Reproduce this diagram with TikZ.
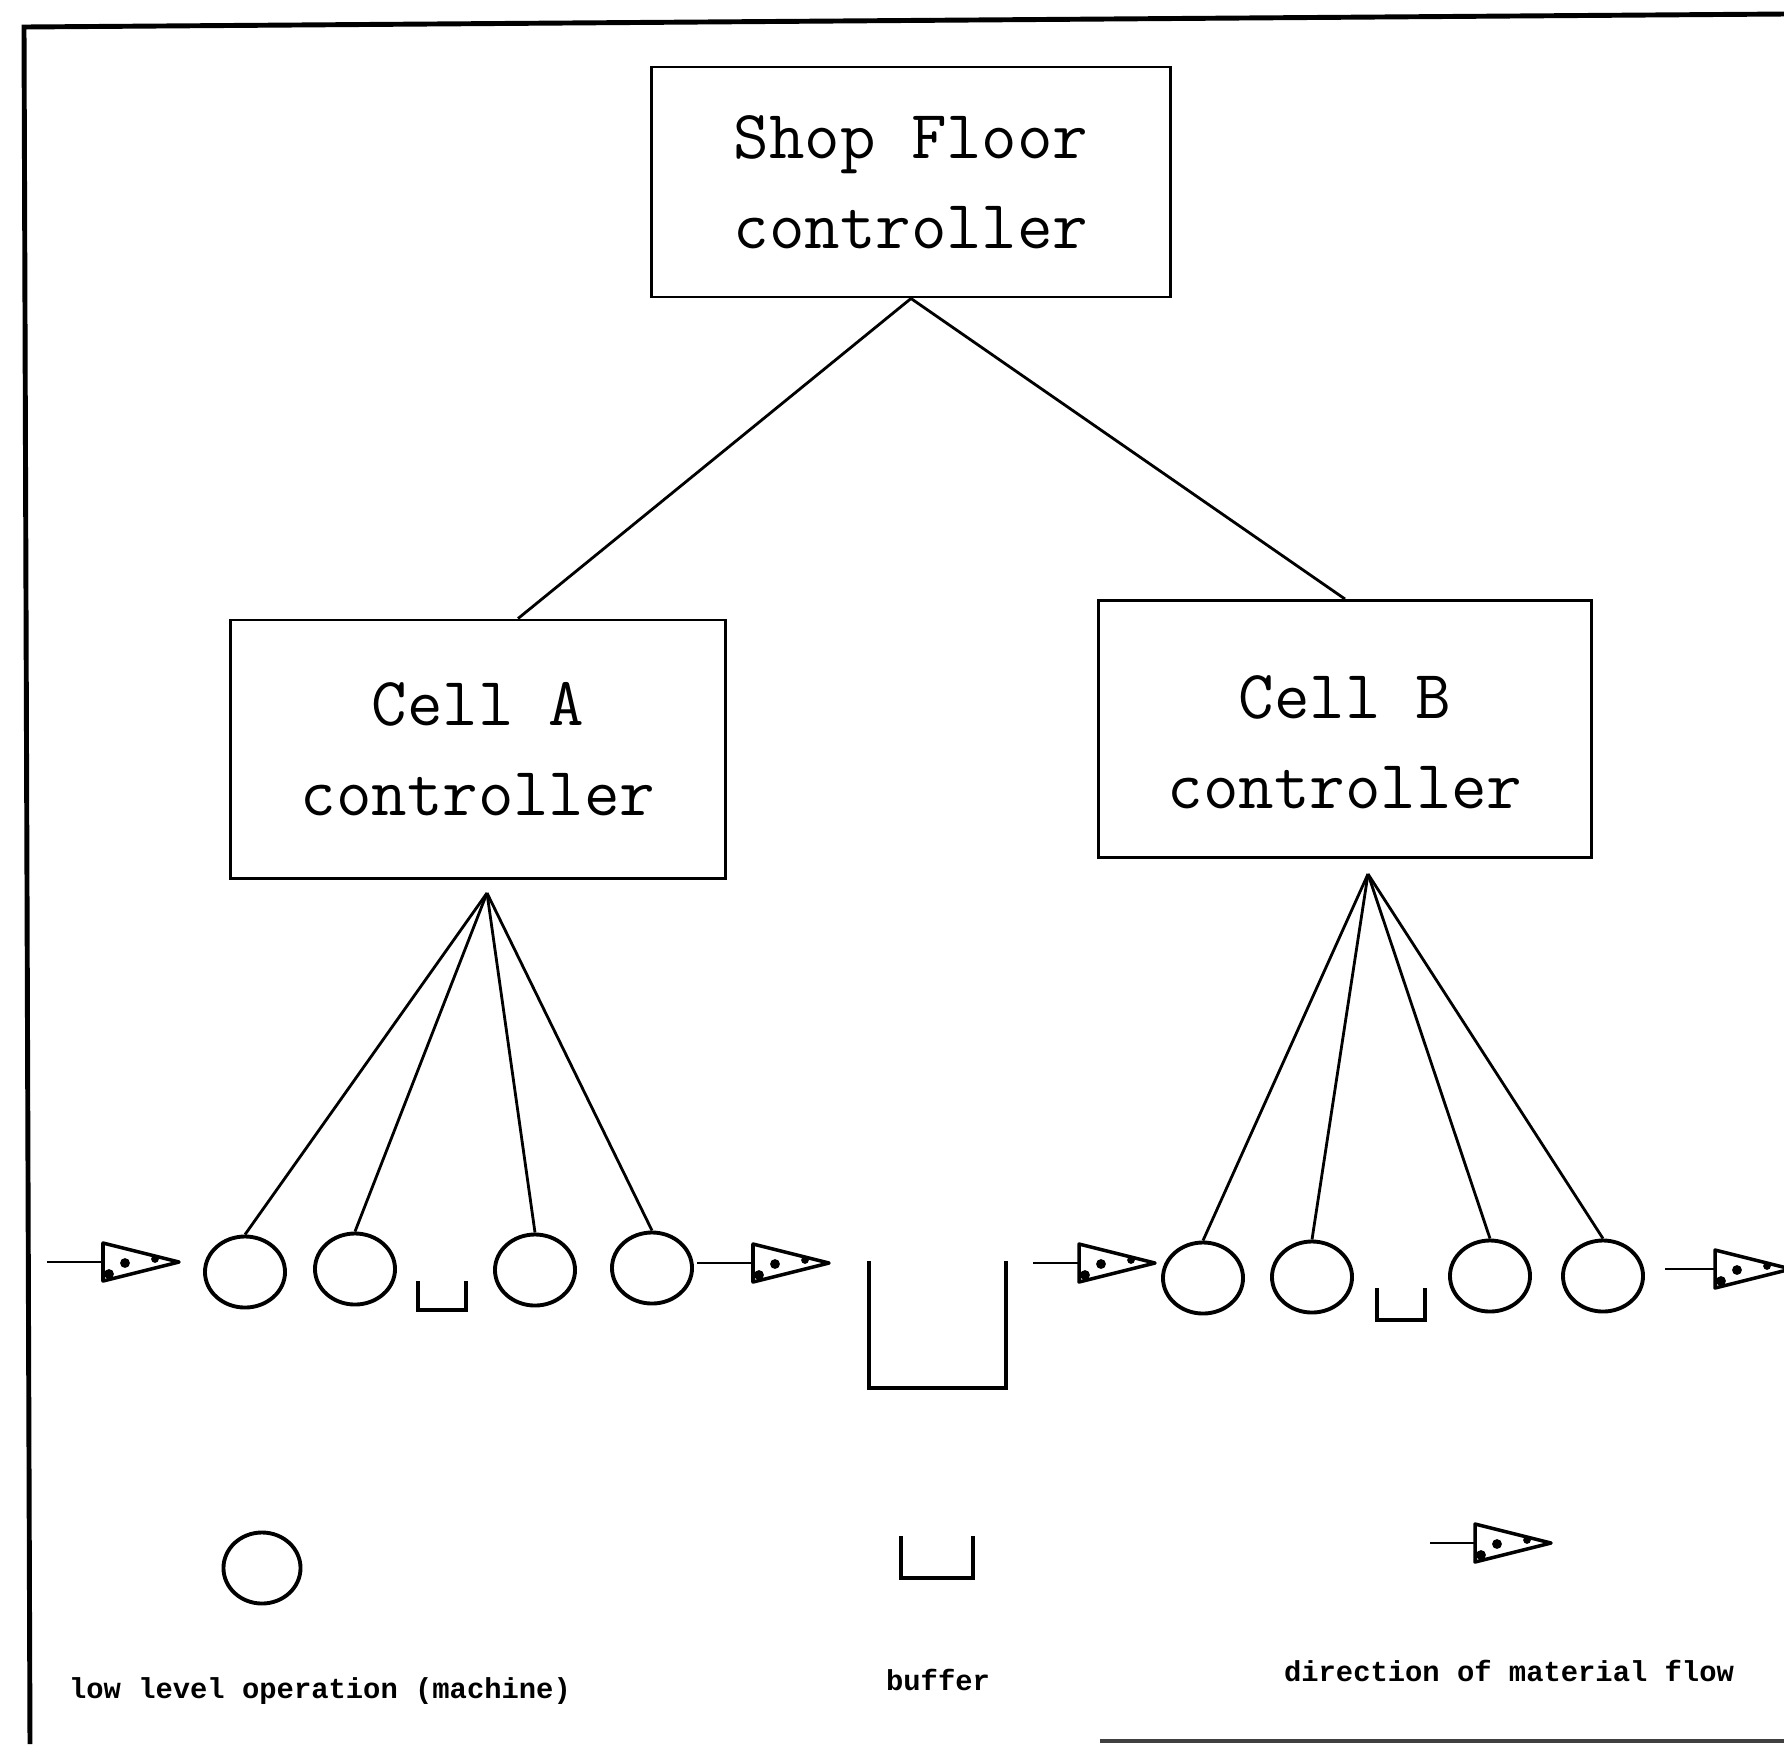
\documentclass[tikz,border=0pt]{standalone}
\usepackage{fontspec}
\newfontfamily\legendfont{Liberation Mono}
\usetikzlibrary{shapes.geometric}

\tikzset{
  % flow symbol: short line and a dotted triangle head
  flow/.pic={
    \draw[line width=0.7pt] (0,0) -- (#1,0);
    \begin{scope}[shift={(#1,0)}]
      \draw[line width=1pt, line join=round] (0,-19) -- (76,0) -- (0,19) -- cycle;
      \fill (22,1) circle (1.4pt);
      \fill (6,12) circle (1.4pt);
      \fill (52,-3) circle (1.1pt);
    \end{scope}
  }
}

\begin{document}
\begin{tikzpicture}[x=0.01cm, y=-0.01cm,
  box/.style={draw, line width=0.8pt, align=center, inner sep=0pt,
    font=\ttfamily\fontsize{19.6}{25.6}\selectfont},
  machine/.style={draw, ellipse, line width=1.1pt, inner sep=0pt,
    minimum width=0.8cm, minimum height=0.71cm},
  fan/.style={line width=0.8pt},
  legend/.style={font=\legendfont\bfseries\fontsize{8.2}{10}\selectfont, inner sep=0pt}]
  \useasboundingbox (0,0) rectangle (1784,1744);

  % Frame
  \draw[line width=1.4pt] (30,1744) -- (24,27) -- (1784,14);
  \draw[line width=0.9pt, black!75] (1100,1741) -- (1784,1741);

  % Controllers
  \node[box, minimum width=5.18cm, minimum height=2.30cm] (shop) at (911,182) {Shop Floor\\controller};
  \node[box, minimum width=4.95cm, minimum height=2.58cm] (cellA) at (478,749) {Cell A\\controller};
  \node[box, minimum width=4.92cm, minimum height=2.57cm] (cellB) at (1345,729) {\\[-0.2cm]Cell B\\controller};

  \draw[fan] (shop.south) -- ([xshift=0.4cm]cellA.north);
  \draw[fan] (shop.south) -- (cellB.north);

  % Cell A machines
  \node[machine] (mA1) at (245,1272) {};
  \node[machine] (mA2) at (355,1269) {};
  \node[machine] (mA3) at (535,1270) {};
  \node[machine] (mA4) at (652,1268) {};
  \coordinate (apexA) at (487,893);
  \foreach \m in {mA1,mA2,mA3,mA4}
    \draw[fan] (apexA) -- (\m.north);

  % Cell B machines
  \node[machine] (mB1) at (1203,1278) {};
  \node[machine] (mB2) at (1312,1277) {};
  \node[machine] (mB3) at (1490,1276) {};
  \node[machine] (mB4) at (1603,1276) {};
  \coordinate (apexB) at (1368,874);
  \foreach \m in {mB1,mB2,mB3,mB4}
    \draw[fan] (apexB) -- (\m.north);

  % Buffers
  \draw[line width=1pt] (418,1281) -- (418,1310) -- (466,1310) -- (466,1281);
  \draw[line width=1pt] (869,1261) -- (869,1388) -- (1006,1388) -- (1006,1261);
  \draw[line width=1pt] (1377,1288) -- (1377,1320) -- (1425,1320) -- (1425,1288);

  % Material flow
  \pic at (47,1262) {flow=56};
  \pic at (697,1263) {flow=56};
  \pic at (1033,1263) {flow=46};
  \pic at (1665,1269) {flow=50};

  % Legend
  \node[machine, minimum width=0.77cm, minimum height=0.71cm] (legmachine) at (262,1568) {};
  \draw[line width=1pt] (901,1536) -- (901,1578) -- (973,1578) -- (973,1536);
  \pic at (1430,1543) {flow=45};

  \node[legend] (lblmachine) at (320,1691) {low level operation (machine)};
  \node[legend] (lblbuffer) at (938,1680) {buffer};
  \node[legend] (lblflow) at (1509,1671) {direction of material flow};
\end{tikzpicture}
\end{document}
